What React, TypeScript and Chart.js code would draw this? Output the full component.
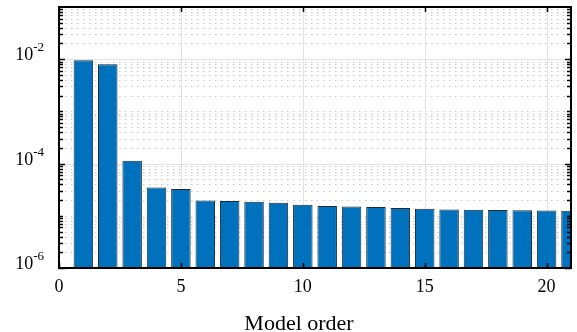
import React, { useEffect, useRef } from "react";
import { Chart, registerables } from "chart.js";

Chart.register(...registerables);

// ---- data ----
const modelOrders = [1, 2, 3, 4, 5, 6, 7, 8, 9, 10, 11, 12, 13, 14, 15, 16, 17, 18, 19, 20, 21];
const errorValues = [
  9.5e-3, 8.0e-3, 1.14e-4, 3.5e-5, 3.26e-5, 1.97e-5, 1.92e-5, 1.86e-5, 1.78e-5, 1.63e-5,
  1.54e-5, 1.51e-5, 1.47e-5, 1.41e-5, 1.36e-5, 1.32e-5, 1.3e-5, 1.29e-5, 1.28e-5, 1.26e-5, 1.25e-5,
];
const xTickValues = [0, 5, 10, 15, 20];
const xTickLabels = ["0", "5", "10", "15", "20"];
const yMajorTickValues = [1e-6, 1e-4, 1e-2];
const yTickExponents = ["-6", "-4", "-2"];
const yDecades = [-6, -5, -4, -3, -2];
const yMantissas = [1, 2, 3, 4, 5, 6, 7, 8, 9];
const xTitle = "Model order";

const SERIF = '"Liberation Serif", "Times New Roman", serif';

const gridPlugin = {
  id: "matlabGrid",
  beforeDatasetsDraw(chart: any) {
    const { ctx, chartArea: a, scales } = chart;
    const xs = scales.x;
    const ys = scales.y;
    ctx.save();
    ctx.beginPath();
    ctx.rect(a.left, a.top, a.right - a.left, a.bottom - a.top);
    ctx.clip();
    ctx.strokeStyle = "#c8c8c8";
    ctx.lineWidth = 1;
    ctx.setLineDash([1.5, 4.5]);
    for (const d of yDecades) {
      for (const m of yMantissas) {
        const v = m * Math.pow(10, d);
        if (yMajorTickValues.some((t) => Math.abs(t - v) / t < 1e-6)) continue;
        const y = Math.round(ys.getPixelForValue(v)) + 0.5;
        ctx.beginPath();
        ctx.moveTo(a.left, y);
        ctx.lineTo(a.right, y);
        ctx.stroke();
      }
    }
    ctx.setLineDash([]);
    ctx.strokeStyle = "#e2e2e2";
    for (const v of yMajorTickValues) {
      const y = Math.round(ys.getPixelForValue(v)) + 0.5;
      ctx.beginPath();
      ctx.moveTo(a.left, y);
      ctx.lineTo(a.right, y);
      ctx.stroke();
    }
    for (const v of xTickValues) {
      const x = Math.round(xs.getPixelForValue(v)) + 0.5;
      ctx.beginPath();
      ctx.moveTo(x, a.top);
      ctx.lineTo(x, a.bottom);
      ctx.stroke();
    }
    ctx.restore();
  },
  afterDatasetsDraw(chart: any) {
    const { ctx, chartArea: a, scales } = chart;
    const xs = scales.x;
    const ys = scales.y;
    ctx.save();
    ctx.strokeStyle = "#000";
    ctx.lineWidth = 2;
    ctx.setLineDash([]);
    ctx.strokeRect(a.left, a.top, a.right - a.left, a.bottom - a.top);
    ctx.lineWidth = 1.5;
    for (const d of yDecades) {
      for (const m of yMantissas) {
        const v = m * Math.pow(10, d);
        const major = yMajorTickValues.some((t) => Math.abs(t - v) / t < 1e-6);
        const len = major ? 6 : 4;
        const y = Math.round(ys.getPixelForValue(v)) + 0.5;
        ctx.beginPath();
        ctx.moveTo(a.left, y);
        ctx.lineTo(a.left + len, y);
        ctx.moveTo(a.right, y);
        ctx.lineTo(a.right - len, y);
        ctx.stroke();
      }
    }
    for (const v of xTickValues) {
      const x = Math.round(xs.getPixelForValue(v)) + 0.5;
      ctx.beginPath();
      ctx.moveTo(x, a.bottom);
      ctx.lineTo(x, a.bottom - 5);
      ctx.moveTo(x, a.top);
      ctx.lineTo(x, a.top + 5);
      ctx.stroke();
    }
    ctx.fillStyle = "#000";
    ctx.font = `18px ${SERIF}`;
    ctx.textAlign = "center";
    ctx.textBaseline = "alphabetic";
    xTickValues.forEach((v, i) => {
      ctx.fillText(xTickLabels[i], xs.getPixelForValue(v), a.bottom + 24);
    });
    yMajorTickValues.forEach((v, i) => {
      const y = ys.getPixelForValue(v);
      const right = a.left - 15;
      ctx.font = `13px ${SERIF}`;
      ctx.textAlign = "right";
      const supW = ctx.measureText(yTickExponents[i]).width;
      ctx.fillText(yTickExponents[i], right, y - 8);
      ctx.font = `18px ${SERIF}`;
      ctx.fillText("10", right - supW, y + 1);
    });
    ctx.font = `22px ${SERIF}`;
    ctx.textAlign = "center";
    ctx.fillText(xTitle, 299, 330);
    ctx.restore();
  },
};

export default function App() {
  const ref = useRef<HTMLCanvasElement | null>(null);
  useEffect(() => {
    document.body.style.margin = "0";
    document.body.style.overflow = "hidden";
    const canvas = ref.current!;
    const chart = new Chart(canvas, {
      type: "bar",
      data: {
        datasets: [
          {
            data: modelOrders.map((x, i) => ({ x, y: errorValues[i] })),
            backgroundColor: "#0072BD",
            borderColor: "#1f2a33",
            borderWidth: 1,
            barPercentage: 0.8,
            categoryPercentage: 1,
          },
        ],
      },
      options: {
        responsive: false,
        animation: false,
        devicePixelRatio: 1,
        layout: { padding: { left: 59, right: 6, top: 7, bottom: 64 } },
        plugins: { legend: { display: false }, tooltip: { enabled: false } },
        scales: {
          x: { type: "linear", min: 0, max: 21, display: false, offset: false },
          y: { type: "logarithmic", min: 1e-6, max: 1e-1, display: false },
        },
      },
      plugins: [gridPlugin],
    } as any);
    return () => chart.destroy();
  }, []);
  return (
    <canvas ref={ref} width={577} height={332} style={{ display: "block", width: 577, height: 332 }} />
  );
}
